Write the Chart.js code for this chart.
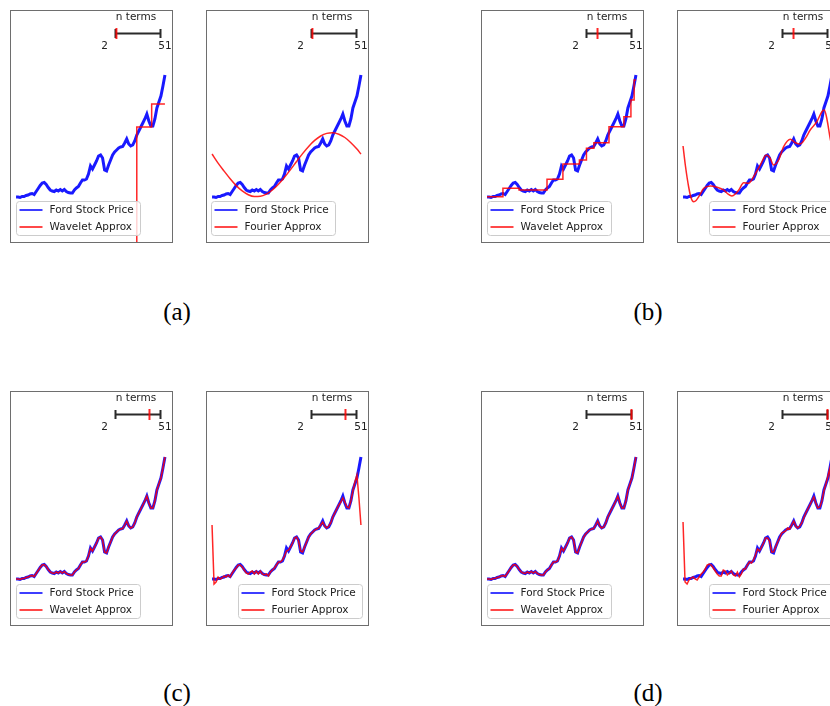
<!DOCTYPE html>
<html>
<head>
<meta charset="utf-8">
<script src="https://cdn.jsdelivr.net/npm/chart.js@4.4.0/dist/chart.umd.min.js"></script>
<style>
  html, body { margin: 0; padding: 0; background: #fff; }
  body { width: 830px; height: 706px; position: relative; overflow: hidden; }
  canvas { position: absolute; }
  .cap { position: absolute; font-family: 'Liberation Serif', serif; font-size: 25px; color: #000;
         transform: translate(-50%, -50%); white-space: nowrap; }
</style>
</head>
<body>
<canvas id="aL" width="163" height="233" style="left:10px;top:10px"></canvas>
<canvas id="aR" width="163" height="233" style="left:206px;top:10px"></canvas>
<canvas id="bL" width="163" height="233" style="left:481px;top:10px"></canvas>
<canvas id="bR" width="163" height="233" style="left:677px;top:10px"></canvas>
<canvas id="cL" width="163" height="235" style="left:10px;top:391px"></canvas>
<canvas id="cR" width="163" height="235" style="left:206px;top:391px"></canvas>
<canvas id="dL" width="163" height="235" style="left:481px;top:391px"></canvas>
<canvas id="dR" width="163" height="235" style="left:677px;top:391px"></canvas>
<div class="cap" style="left:177px;top:312px">(a)</div>
<div class="cap" style="left:648px;top:312px">(b)</div>
<div class="cap" style="left:177px;top:693px">(c)</div>
<div class="cap" style="left:648px;top:693px">(d)</div>
<script>
// Ford stock price, one value per time step (index 0..74)
const price = [4.5, 4.5, 4.45, 4.55, 4.55, 4.65, 4.7, 4.8, 4.85, 4.75,
  5.05, 5.35, 5.65, 5.9, 5.95, 5.75, 5.45, 5.2, 5.1, 5.05,
  5.2, 5.1, 5.25, 5.1, 5.25, 5.05, 4.95, 4.9, 4.9, 5.2,
  5.4, 5.55, 5.9, 6.2, 6.2, 6.3, 6.8, 7.6, 7.3, 7.7,
  8.1, 8.6, 8.7, 8.4, 7.2, 7.1, 7.7, 8.2, 8.7, 9.0,
  9.2, 9.4, 9.5, 9.55, 9.9, 10.3, 9.8, 9.6, 9.7, 10.1,
  10.7, 11.1, 11.5, 11.9, 12.3, 12.8, 12.1, 11.6, 11.6, 12.3,
  13.4, 14.0, 14.6, 15.6, 16.7];

// slider position (n terms) for rows a, b, c, d
const nTerms = [3, 14, 39, 51];

// (a) wavelet, few terms: steps (first level sits far below the plot)
const waveletAX = [0, 60, 67.4, 74];
const waveletAY = [-5, 11.5, 13.8, 13.8];

// (a) fourier, few terms
const fourierAX = [0, 3, 6, 9, 12, 15, 18, 21, 24, 27, 30, 33, 36, 39, 42, 45, 48, 51, 54, 57, 60, 63, 66, 69, 72, 74];
const fourierAY = [8.8, 7.89, 7.09, 6.32, 5.64, 5.11, 4.73, 4.55, 4.57, 4.79, 5.2, 5.77, 6.47, 7.24, 8.05, 8.84,
  9.56, 10.16, 10.6, 10.86, 10.93, 10.78, 10.45, 9.93, 9.29, 8.79];

// (b) wavelet steps
const waveletBX = [0, 7.9, 15.9, 29.8, 37.7, 45.9, 49.4, 53.1, 60.6, 68.0, 71.5, 73.1, 74];
const waveletBY = [4.53, 5.37, 5.2, 6.27, 7.8, 8.2, 9.37, 9.93, 11.53, 12.53, 14.2, 16.2, 16.2];

// (b) fourier
const fourierBX = [0, 1.2, 2.8, 4, 5.3, 6.5, 7.8, 10.3, 13.6, 16.9, 20.2, 22.3, 24.3, 26, 27.7, 30.1, 32.6, 35.1,
  38.4, 41.4, 43.3, 45, 47.5, 50, 53.3, 55.8, 58.3, 60.8, 63.2, 66.5, 69, 70.2, 71.5, 73, 74];
const fourierBY = [9.6, 7.6, 5.5, 4.4, 4.03, 4.15, 4.53, 5.37, 5.6, 5.47, 5.2, 4.8, 4.6, 4.8, 5.2, 5.93, 5.87, 6.53,
  7.7, 8.7, 8.37, 7.7, 8.2, 9.53, 10.27, 9.93, 9.8, 10.37, 11.2, 12.03, 13.03, 13.2, 12.3, 10.5, 9.5];

// (c) fourier, many terms (overshoot at both ends)
const fourierC = [9.9, 4.0, 4.2, 4.7, 4.5, 4.6, 4.8, 4.7, 4.9, 4.7,
  5.1, 5.4, 5.6, 5.9, 5.9, 5.7, 5.4, 5.1, 5.0, 5.2,
  5.3, 5.0, 5.3, 5.0, 5.3, 5.0, 4.9, 5.0, 4.8, 5.2,
  5.4, 5.6, 5.9, 6.2, 6.2, 6.4, 6.8, 7.3, 7.4, 7.7,
  8.1, 8.6, 8.7, 8.3, 7.3, 7.2, 7.7, 8.2, 8.7, 9.0,
  9.2, 9.4, 9.5, 9.6, 9.9, 10.2, 9.8, 9.6, 9.8, 10.1,
  10.7, 11.1, 11.5, 11.9, 12.2, 12.6, 12.2, 11.7, 11.6, 12.3,
  13.3, 14.2, 14.9, 12.6, 9.9];

// (d) fourier, all terms (ringing near the start)
const fourierD = [10.2, 4.2, 4.0, 4.4, 4.6, 4.7, 4.5, 4.4, 4.7, 5.0,
  5.2, 5.5, 5.9, 6.0, 5.9, 5.6, 5.3, 5.0, 4.8, 4.8,
  5.4, 5.3, 4.9, 5.1, 5.3, 4.9, 4.8, 5.2, 4.7, 5.0,
  5.5, 5.5, 5.9, 6.2, 6.1, 6.4, 6.9, 7.5, 7.3, 7.7,
  8.1, 8.6, 8.6, 8.3, 7.2, 7.2, 7.7, 8.2, 8.6, 9.1,
  9.2, 9.3, 9.6, 9.5, 9.9, 10.3, 9.8, 9.6, 9.8, 10.1,
  10.6, 11.1, 11.5, 11.9, 12.3, 12.7, 12.1, 11.6, 11.7, 12.3,
  13.3, 14.0, 14.8, 15.6, 10.2];

// with many wavelet terms the approximation sits on the price itself
const waveletC = price;
const waveletD = price;

const xy = (xs, ys) => xs.map((x, i) => ({ x: x, y: ys[i] }));
const series = ys => ys.map((y, i) => ({ x: i, y: y }));

const BLUE = 'rgba(0,0,255,0.9)';
const RED = 'rgba(255,0,0,0.85)';

// frame + "n terms" slider
const sliderPlugin = {
  id: 'slider',
  afterDraw(chart, args, opts) {
    const ctx = chart.ctx;
    const w = chart.width, h = chart.height;
    ctx.save();
    ctx.strokeStyle = '#6e6e6e';
    ctx.lineWidth = 1;
    ctx.strokeRect(0.5, 0.5, w - 1, h - 1);

    const x0 = 105.5, x1 = 150.5, y = 23.5;
    ctx.strokeStyle = '#2a2a2a';
    ctx.lineWidth = 2;
    ctx.beginPath();
    ctx.moveTo(x0, y); ctx.lineTo(x1, y);
    ctx.moveTo(x0, y - 4.5); ctx.lineTo(x0, y + 4.5);
    ctx.moveTo(x1, y - 4.5); ctx.lineTo(x1, y + 4.5);
    ctx.stroke();
    const px = x0 + (opts.value - 2) / (51 - 2) * (x1 - x0);
    ctx.strokeStyle = RED;
    ctx.beginPath();
    ctx.moveTo(px, y - 5.5); ctx.lineTo(px, y + 5.5);
    ctx.stroke();

    ctx.fillStyle = '#222';
    ctx.font = '10.5px "DejaVu Sans"';
    ctx.textAlign = 'center';
    ctx.textBaseline = 'middle';
    ctx.fillText('n terms', 126, 7.5);
    ctx.fillText('2', 94.5, 36.5);
    ctx.fillText('51', 155, 36.5);
    ctx.restore();
  }
};

// legend box drawn inside the axes, lower part
const legendPlugin = {
  id: 'legendBox',
  afterDatasetsDraw(chart, args, opts) {
    const ctx = chart.ctx;
    const x = Math.round(opts.x) + 0.5, y = chart.height - 41.5, w = 124, h = 34;
    ctx.save();
    ctx.beginPath();
    ctx.roundRect(x, y, w, h, 3);
    ctx.fillStyle = 'rgba(255,255,255,0.8)';
    ctx.fill();
    ctx.strokeStyle = '#cccccc';
    ctx.lineWidth = 1;
    ctx.stroke();
    ctx.font = '10.5px "DejaVu Sans"';
    ctx.textBaseline = 'middle';
    ctx.textAlign = 'left';
    chart.data.datasets.forEach((ds, k) => {
      const ly = y + 8.5 + k * 17;
      ctx.strokeStyle = ds.borderColor;
      ctx.lineWidth = 1.7;
      ctx.beginPath();
      ctx.moveTo(x + 3, ly); ctx.lineTo(x + 26, ly);
      ctx.stroke();
      ctx.fillStyle = '#222';
      ctx.fillText(ds.label, x + 33, ly + 0.5);
    });
    ctx.restore();
  }
};

const panels = [
  { id: 'aL', row: 0, red: xy(waveletAX, waveletAY), name: 'Wavelet Approx', stepped: 'before', lx: 5.5 },
  { id: 'aR', row: 0, red: xy(fourierAX, fourierAY), name: 'Fourier Approx', smooth: true, lx: 5 },
  { id: 'bL', row: 1, red: xy(waveletBX, waveletBY), name: 'Wavelet Approx', stepped: 'before', lx: 5.5 },
  { id: 'bR', row: 1, red: xy(fourierBX, fourierBY), name: 'Fourier Approx', smooth: true, lx: 32 },
  { id: 'cL', row: 2, red: series(waveletC), name: 'Wavelet Approx', lx: 5.5 },
  { id: 'cR', row: 2, red: series(fourierC), name: 'Fourier Approx', lx: 32 },
  { id: 'dL', row: 3, red: series(waveletD), name: 'Wavelet Approx', lx: 5.5 },
  { id: 'dR', row: 3, red: series(fourierD), name: 'Fourier Approx', lx: 32 }
];

panels.forEach(p => {
  const bottomRow = p.row >= 2;
  new Chart(document.getElementById(p.id).getContext('2d'), {
    type: 'line',
    data: {
      datasets: [{
        label: 'Ford Stock Price',
        data: series(price),
        borderColor: BLUE,
        borderWidth: 3,
        tension: 0,
        order: 2
      }, {
        label: p.name,
        data: p.red,
        borderColor: RED,
        borderWidth: 1.5,
        stepped: p.stepped || false,
        cubicInterpolationMode: p.smooth ? 'monotone' : 'default',
        tension: 0,
        order: 1
      }]
    },
    options: {
      responsive: false,
      animation: false,
      devicePixelRatio: 1,
      events: [],
      layout: { padding: 0 },
      elements: { point: { radius: 0 } },
      plugins: {
        legend: { display: false },
        tooltip: { enabled: false },
        legendBox: { x: p.lx },
        slider: { value: nTerms[p.row] }
      },
      scales: {
        x: { type: 'linear', display: false, min: -3, max: 78 },
        y: { display: false, min: bottomRow ? -0.2 : -0.1, max: bottomRow ? 23.3 : 23.2 }
      }
    },
    plugins: [legendPlugin, sliderPlugin]
  });
});
</script>
</body>
</html>
